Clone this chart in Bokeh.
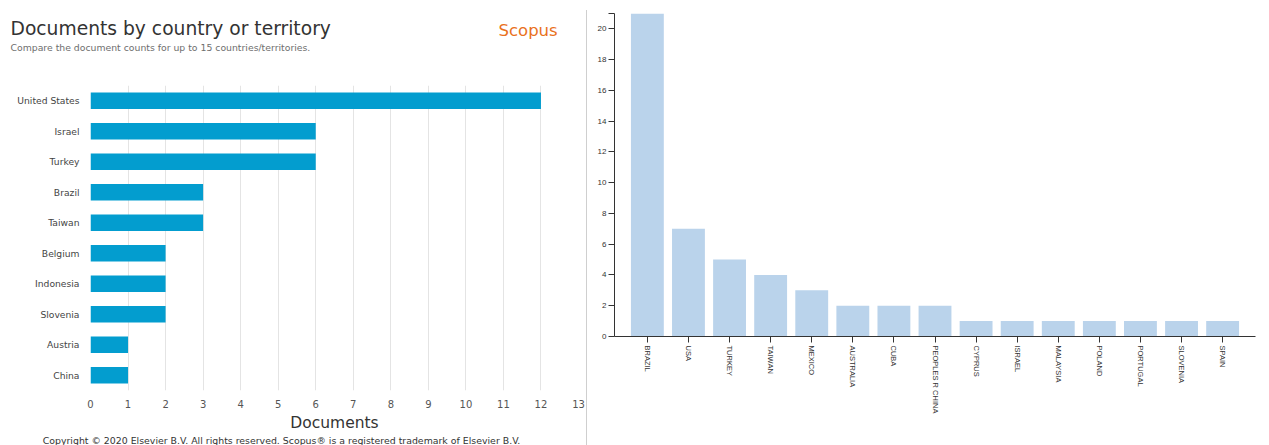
import math
from bokeh.plotting import figure
from bokeh.models import (ColumnDataSource, FactorRange, Range1d, FixedTicker,
                          Label, Div)
from bokeh.layouts import row, column
from bokeh.embed import file_html
from bokeh.resources import INLINE

# ---------------- data ----------------
left_countries = ["United States", "Israel", "Turkey", "Brazil", "Taiwan",
                  "Belgium", "Indonesia", "Slovenia", "Austria", "China"]
left_docs = [12, 6, 6, 3, 3, 2, 2, 2, 1, 1]
left_ticks = list(range(0, 14))

right_countries = ["BRAZIL", "USA", "TURKEY", "TAIWAN", "MEXICO", "AUSTRALIA",
                   "CUBA", "PEOPLES R CHINA", "CYPRUS", "ISRAEL", "MALAYSIA",
                   "POLAND", "PORTUGAL", "SLOVENIA", "SPAIN"]
right_counts = [21, 7, 5, 4, 3, 2, 2, 2, 1, 1, 1, 1, 1, 1, 1]
right_ticks = [0, 2, 4, 6, 8, 10, 12, 14, 16, 18, 20, 21]

title_text = "Documents by country or territory"
subtitle_text = "Compare the document counts for up to 15 countries/territories."
brand_text = "Scopus"
copyright_text = ("Copyright \u00a9 2020 Elsevier B.V. All rights reserved. "
                  "Scopus\u00ae is a registered trademark of Elsevier B.V.")

FONT = "DejaVu Sans"


def blank(width, height):
    f = figure(width=width, height=height, output_backend="svg",
               toolbar_location=None, x_axis_type=None, y_axis_type=None,
               x_range=Range1d(0, width), y_range=Range1d(height, 0),
               min_border=0)
    f.frame_align = False
    f.outline_line_color = None
    f.grid.visible = False
    return f


# ---------------- header ----------------
header = blank(586, 70)
header.add_layout(Label(x=10, y=28, text=title_text, text_font=FONT,
                        text_font_size="18.7px", text_color="#333333",
                        text_baseline="middle"))
header.add_layout(Label(x=10, y=46.5, text=subtitle_text, text_font=FONT,
                        text_font_size="9.3px", text_color="#6e6e6e",
                        text_baseline="middle"))
header.add_layout(Label(x=498, y=30, text=brand_text, text_font=FONT,
                        text_font_size="16.5px", text_color="#e9711c",
                        text_baseline="middle"))

# ---------------- left chart ----------------
lsrc = ColumnDataSource(dict(country=left_countries, docs=left_docs))
lp = figure(width=586, height=364, output_backend="svg", toolbar_location=None,
            y_range=FactorRange(factors=list(reversed(left_countries))),
            x_range=Range1d(0, 13),
            min_border_left=90, min_border_right=8,
            min_border_top=15, min_border_bottom=42)
lp.frame_align = False
lp.hbar(y="country", right="docs", left=0, height=0.545, source=lsrc,
        fill_color="#039dcf", line_color=None)
lp.outline_line_color = None
lp.ygrid.grid_line_color = None
lp.xgrid.grid_line_color = "#e4e4e4"
lp.xaxis.ticker = FixedTicker(ticks=left_ticks)
for ax in (lp.xaxis, lp.yaxis):
    ax.axis_line_color = None
    ax.major_tick_line_color = None
    ax.minor_tick_line_color = None
    ax.major_tick_out = 0
    ax.major_tick_in = 0
    ax.minor_tick_out = 0
    ax.major_label_text_font = FONT
lp.xaxis.major_label_standoff = 9
lp.xaxis.major_label_text_font_size = "10px"
lp.xaxis.major_label_text_color = "#555555"
lp.xaxis.axis_label = "Documents"
lp.xaxis.axis_label_text_font = FONT
lp.xaxis.axis_label_text_font_style = "normal"
lp.xaxis.axis_label_text_font_size = "15.5px"
lp.xaxis.axis_label_text_color = "#333333"
lp.xaxis.axis_label_standoff = 3
lp.yaxis.major_label_standoff = 11
lp.yaxis.major_label_text_font_size = "9.2px"
lp.yaxis.major_label_text_color = "#444444"

# ---------------- footer ----------------
footer = blank(586, 11)
footer.add_layout(Label(x=281, y=5, text=copyright_text, text_font=FONT,
                        text_font_size="9.4px", text_color="#333333",
                        text_baseline="middle", text_align="center"))

left_col = column(header, lp, footer, spacing=0)

# ---------------- divider ----------------
divider = Div(width=1, height=435, margin=(10, 0, 0, 0),
              styles={"background-color": "#cfcfcf"})

# ---------------- right chart ----------------
rsrc = ColumnDataSource(dict(country=right_countries, count=right_counts))
rp = figure(width=682, height=445, output_backend="svg", toolbar_location=None,
            x_range=FactorRange(factors=right_countries, range_padding=0.3,
                                range_padding_units="absolute"),
            y_range=Range1d(0, 21),
            min_border_left=27, min_border_right=14,
            min_border_top=13, min_border_bottom=109)
rp.frame_align = False
rp.vbar(x="country", top="count", width=0.8, source=rsrc,
        fill_color="#bad3eb", line_color=None)
rp.outline_line_color = None
rp.xgrid.grid_line_color = None
rp.ygrid.grid_line_color = None
for ax in (rp.xaxis, rp.yaxis):
    ax.axis_line_color = "#333333"
    ax.major_tick_line_color = "#333333"
    ax.major_tick_out = 6
    ax.major_tick_in = 0
    ax.minor_tick_line_color = None
    ax.major_label_text_font = "Liberation Sans"
    ax.major_label_text_color = "#333333"
rp.yaxis.ticker = FixedTicker(ticks=right_ticks)
rp.yaxis.major_label_overrides = {21: ""}
rp.yaxis.major_label_text_font_size = "8px"
rp.yaxis.major_label_standoff = 2
rp.xaxis.major_label_text_font_size = "7.5px"
rp.xaxis.major_label_orientation = -math.pi / 2
rp.xaxis.major_label_standoff = 3

layout = row(left_col, divider, rp, spacing=0)
open("out.html", "w").write(file_html(layout, INLINE))
